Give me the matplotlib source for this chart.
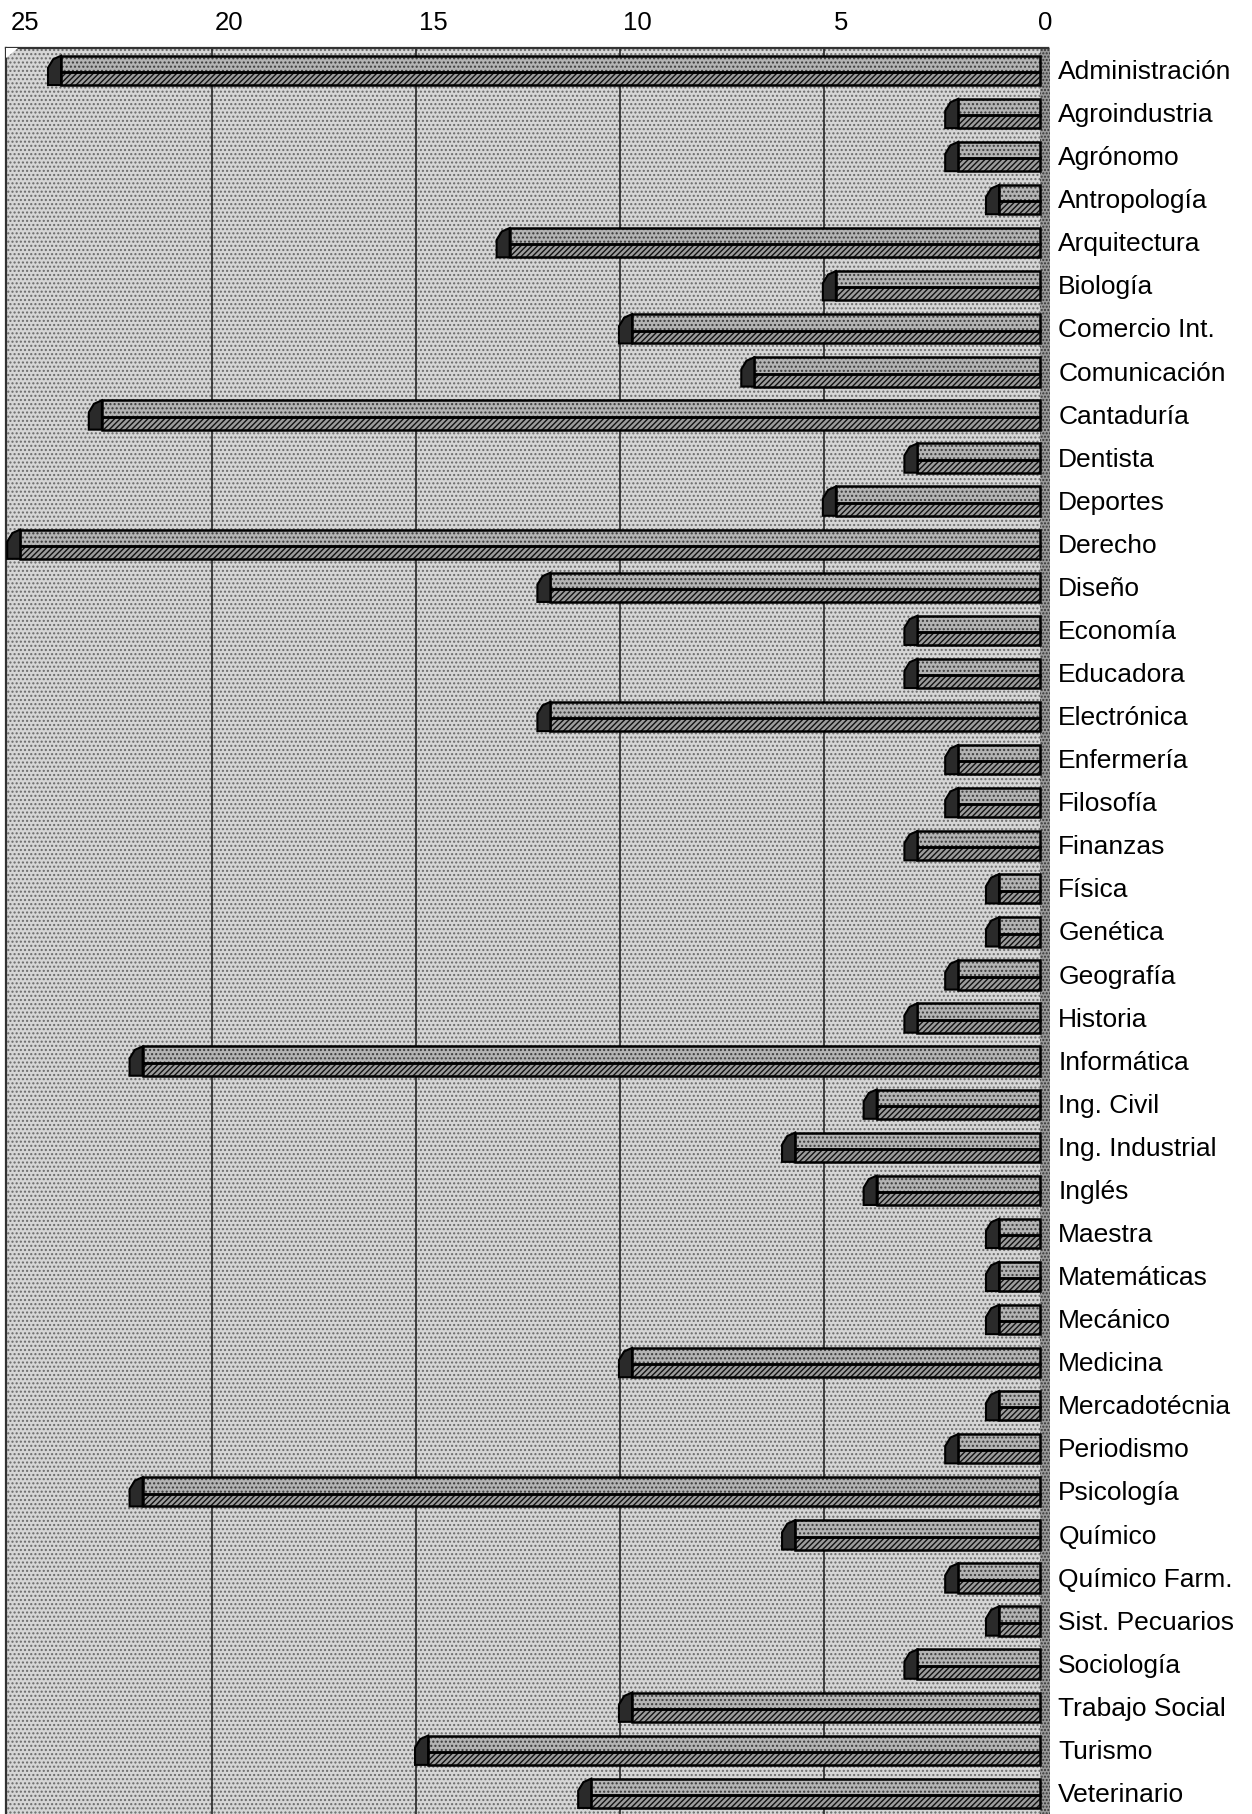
import matplotlib.pyplot as plt
import numpy as np
from matplotlib.patches import Rectangle, Polygon
from matplotlib.transforms import ScaledTranslation

# Datos: numero de alumnos por carrera
carreras = ["Administración", "Agroindustria", "Agrónomo", "Antropología",
            "Arquitectura", "Biología", "Comercio Int.", "Comunicación",
            "Cantaduría", "Dentista", "Deportes", "Derecho", "Diseño",
            "Economía", "Educadora", "Electrónica", "Enfermería", "Filosofía",
            "Finanzas", "Física", "Genética", "Geografía", "Historia",
            "Informática", "Ing. Civil", "Ing. Industrial", "Inglés",
            "Maestra", "Matemáticas", "Mecánico", "Medicina", "Mercadotécnia",
            "Periodismo", "Psicología", "Químico", "Químico Farm.",
            "Sist. Pecuarios", "Sociología", "Trabajo Social", "Turismo",
            "Veterinario"]
alumnos = [24, 2, 2, 1, 13, 5, 10, 7, 23, 3, 5, 25, 12, 3, 3, 12, 2, 2, 3, 1,
           1, 2, 3, 22, 4, 6, 4, 1, 1, 1, 10, 1, 2, 22, 6, 2, 1, 3, 10, 15, 11]
ticks = [0, 5, 10, 15, 20, 25]

plt.rcParams['font.family'] = ['Liberation Sans', 'DejaVu Sans']
plt.rcParams['hatch.linewidth'] = 1.0

fig = plt.figure(figsize=(12.52, 18.14), dpi=100)
ax = fig.add_axes([6 / 1252, 0, 1044 / 1252, 1766 / 1814])

y = np.arange(len(carreras))
v = np.array(alumnos, dtype=float)

# fondo punteado (pared del fondo)
ax.set_facecolor('white')
ax.add_patch(Rectangle((0, 0), 1, 1, transform=ax.transAxes, facecolor='#d6d6d6',
                       edgecolor='#6a6a6a', hatch='....', lw=0, zorder=0))
# pared lateral derecha
ax.axvspan(0, -0.25, facecolor='#9a9a9a', edgecolor='#333333', hatch='.....',
           lw=0, zorder=0.5)

# lineas de la reticula (en la pared del fondo, desplazadas)
for t in ticks[1:-1]:
    ax.axvline(t + 0.3, color='#1a1a1a', lw=1.1, zorder=1)

# barras 3D
s = y + 0.06
h_top, h_front, d = 0.38, 0.3, 0.32
ax.barh(s - h_top, v, height=h_top, align='edge', facecolor='#b4b4b4',
        edgecolor='#3a3a3a', hatch='....', lw=0, zorder=2)
ax.barh(s, v, height=h_front, align='edge', facecolor='#9c9c9c',
        edgecolor='#111111', hatch='//////', lw=0, zorder=2)
ax.barh(s - h_top, v, height=h_top, align='edge', fill=False,
        edgecolor='black', lw=1.8, zorder=3)
ax.barh(s, v, height=h_front, align='edge', fill=False,
        edgecolor='black', lw=1.8, zorder=3)
for si, vi in zip(s, v):
    cap = [(vi, si - h_top), (vi + d * 0.6, si - h_top + 0.08),
           (vi + d, si - h_top + 0.28), (vi + d, si + h_front), (vi, si + h_front)]
    ax.add_patch(Polygon(cap, closed=True, facecolor='#2a2a2a',
                         edgecolor='black', lw=1.5, zorder=4))

ax.set_xlim(25.35, -0.25)
ax.set_ylim(len(carreras) - 0.5, -0.5)

ax.set_xticks(ticks)
ax.xaxis.tick_top()
ax.tick_params(axis='x', length=0, pad=9, labelsize=18.5)
shift = ScaledTranslation(5 / 100, 0, fig.dpi_scale_trans)
for lab in ax.get_xticklabels():
    lab.set_transform(lab.get_transform() + shift)
ax.set_yticks(y, carreras)
ax.yaxis.tick_right()
ax.tick_params(axis='y', length=0, pad=6, labelsize=19)

for side in ['right', 'bottom']:
    ax.spines[side].set_visible(False)
for side in ['left', 'top']:
    ax.spines[side].set_color('#333333')
    ax.spines[side].set_linewidth(1.6)
    ax.spines[side].set_linestyle((0, (1, 1)))

# esquina biselada arriba a la izquierda
ax.add_patch(Polygon([(0, 1), (0, 1 - 10 / 1766), (12 / 1044, 1)], closed=True,
                     transform=ax.transAxes, facecolor='white', lw=0,
                     clip_on=False, zorder=10))

fig.savefig('out.png', dpi=100)
plt.close()
